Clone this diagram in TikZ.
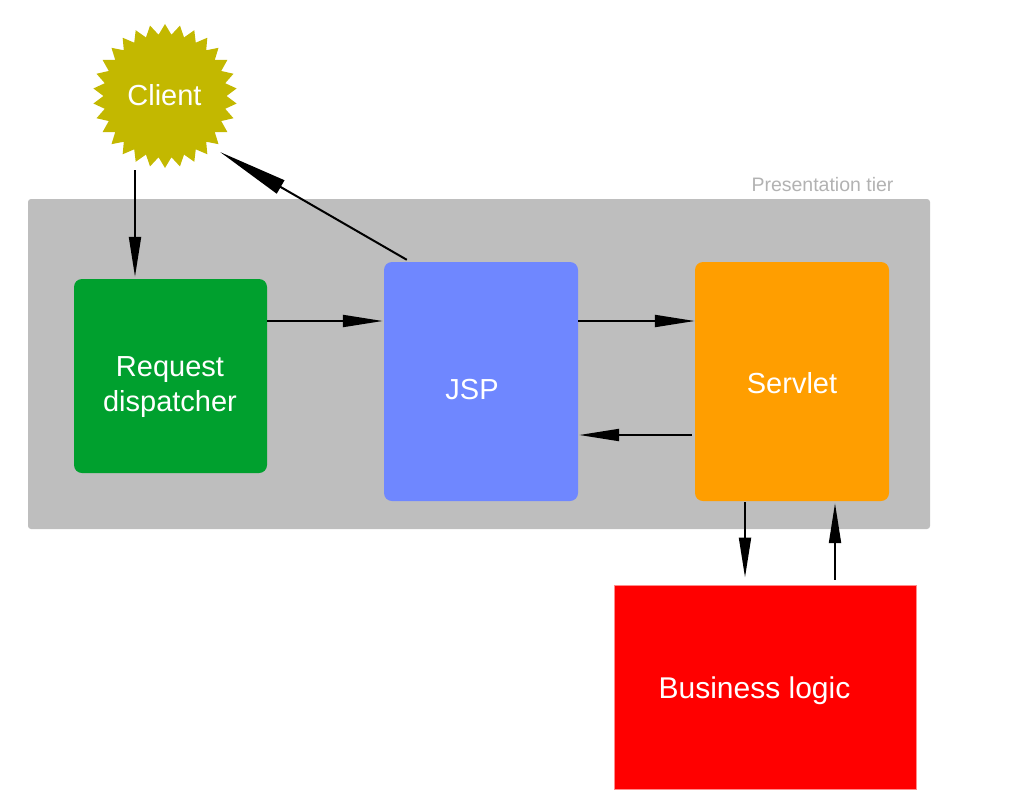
\documentclass[tikz,border=0pt]{standalone}
\usepackage{fontspec}
\setmainfont{Liberation Sans}
\usetikzlibrary{shapes.geometric,arrows.meta}
\definecolor{tiergray}{HTML}{BEBEBE}
\definecolor{tiertext}{HTML}{B2B2B2}
\definecolor{clientcol}{HTML}{C3B800}
\definecolor{rdcol}{HTML}{00A02E}
\definecolor{jspcol}{HTML}{6F87FF}
\definecolor{servcol}{HTML}{FF9E00}
\definecolor{blcol}{HTML}{FF0000}
\tikzset{
  boxnode/.style={rectangle, rounded corners=8pt, inner sep=0pt, draw=none},
  lbl/.style={text=white, font=\fontsize{29pt}{35pt}\selectfont, inner sep=0pt, align=center},
  arr/.style={line width=2pt, -{Triangle[length=40pt,width=12pt]}},
  longarr/.style={line width=2pt, -{Triangle[length=70pt,width=15pt]}}
}
\begin{document}
\begin{tikzpicture}[x=1pt,y=-1pt]
\useasboundingbox (0,0) rectangle (1024,800);
% presentation tier background
\node[rectangle, rounded corners=3pt, fill=tiergray, minimum width=902pt, minimum height=330pt, inner sep=0pt] (tier) at (479,364) {};
\node[anchor=base, text=tiertext, font=\fontsize{19.5pt}{23pt}\selectfont, inner sep=0pt] (tierlbl) at (822.5,191) {Presentation tier};
% client
\node[star, star points=30, star point ratio=1.17, minimum size=144pt, inner sep=0pt, fill=clientcol] (client) at (165,96) {};
\node[lbl, anchor=base] (clientlbl) at (164.5,105) {Client};
% boxes
\node[boxnode, fill=rdcol, minimum width=193pt, minimum height=194pt] (rd) at (170.5,376) {};
\node[lbl] (rdlbl) at (170,387) {Request\\dispatcher};
\node[boxnode, fill=jspcol, minimum width=194pt, minimum height=239pt] (jsp) at (481,381.5) {};
\node[lbl, anchor=base] (jsplbl) at (472,399) {JSP};
\node[boxnode, fill=servcol, minimum width=194pt, minimum height=239pt] (servlet) at (792,381.5) {};
\node[lbl, anchor=base] (servletlbl) at (792,393) {Servlet};
\node[rectangle, fill=blcol, draw=blcol!45, line width=1pt, minimum width=302pt, minimum height=204pt, inner sep=0pt] (bl) at (765,687) {};
\node[lbl, anchor=base, font=\fontsize{30pt}{36pt}\selectfont] (bllbl) at (754.5,698) {Business logic};
% connectors
\draw[arr] ([xshift=-30pt,yshift=-74pt]client.center) -- ([xshift=-35.5pt,yshift=2pt]rd.north);
\draw[longarr] ([xshift=23pt,yshift=2pt]jsp.north west) -- ([xshift=55pt,yshift=-56pt]client.center);
\draw[arr] ([yshift=55pt]rd.east) -- ([yshift=60.5pt,xshift=-1pt]jsp.west);
\draw[arr] ([yshift=60.5pt]jsp.east) -- ([yshift=60.5pt]servlet.west);
\draw[arr] ([yshift=-53.5pt,xshift=-3pt]servlet.west) -- ([yshift=-53.5pt,xshift=1pt]jsp.east);
\draw[arr] ([xshift=-47pt,yshift=-1pt]servlet.south) -- ([xshift=-20pt,yshift=7pt]bl.north);
\draw[arr] ([xshift=70pt,yshift=5pt]bl.north) -- ([xshift=43pt,yshift=-2pt]servlet.south);
\end{tikzpicture}
\end{document}
